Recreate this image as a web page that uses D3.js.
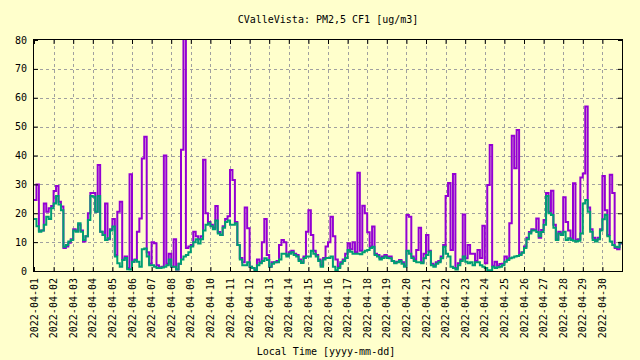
<!DOCTYPE html>
<html>
<head>
<meta charset="utf-8">
<script src="https://cdn.jsdelivr.net/npm/d3@7"></script>
<style>
html,body{margin:0;padding:0;background:#ffffcc;}
svg{display:block;}
text{font-family:"DejaVu Sans Mono","Liberation Mono",monospace;font-size:10px;fill:#000;}
</style>
</head>
<body>
<svg id="chart" width="640" height="360"></svg>
<script>
// ---- data (3-hour values, starting 2022-04-01 00:00 local time) ----
const chartTitle = "CValleVista: PM2,5 CF1 [ug/m3]";
const xTitle = "Local Time [yyyy-mm-dd]";
const startDate = "2022-04-01";
const endDate = "2022-05-01";
const stepHours = 3;
const yTicks = [0, 10, 20, 30, 40, 50, 60, 70, 80];

// purple series
const seriesA = [
  24.6, 30, 14, 14, 23.4, 20.5, 21.7, 22.5,
  27.7, 29.4, 24, 22.3, 8, 8.5, 9.8, 11,
  14.5, 14, 16, 14, 10.2, 12, 20, 27,
  27, 20.5, 36.7, 13.6, 12.5, 23.4, 11, 14.5,
  18, 5.5, 20.5, 24, 4, 5, 1, 33.5,
  3.2, 4, 13.6, 18.2, 39, 46.5, 6.5, 2.5,
  10, 9.6, 2, 1.2, 1.5, 40, 2.5, 6,
  1.5, 11, 0.5, 2.5, 42, 90, 8, 8.5,
  9, 13.6, 12, 11, 12, 38.5, 20, 17,
  16, 15, 22.5, 13.5, 12.5, 15.5, 18, 19,
  35, 31.5, 17, 9, 4.5, 3, 22, 14.8,
  1.5, 1, 0.5, 4, 3, 10, 18, 5.5,
  1.5, 3, 3, 3.5, 9, 10.7, 10, 5.5,
  6.5, 7, 6, 5.5, 4, 3, 5, 13.6,
  21, 12.5, 7, 5.5, 4, 2, 4.5, 8.5,
  10, 18.8, 12, 4, 1.5, 3, 4, 6,
  9.6, 7.5, 10, 6.5, 34, 7, 22.6, 20,
  13.4, 8.5, 15.4, 6, 5.5, 4.5, 5, 5.5,
  5, 5, 3.5, 3, 3.2, 3.8, 3, 1.8,
  19.4, 18.8, 5, 4, 7.3, 15, 3, 6,
  12.5, 7, 2.5, 2, 3, 3.5, 5, 9,
  26, 30.5, 7.3, 33.6, 1, 2.7, 4, 19.6,
  4.4, 9, 6, 6, 3.5, 7.3, 4.5, 15.7,
  2.7, 29.8, 43.6, 1.8, 3.2, 1.8, 2.4, 2.5,
  5, 4.2, 16.5, 46.8, 35.6, 48.8, 5.8, 6.5,
  8.5, 11.5, 13.5, 14.5, 14.2, 18.2, 11.5, 14.2,
  17.7, 27, 20.5, 27.8, 16, 11, 13.6, 13,
  25.5, 17, 14, 11, 30.4, 10.8, 11, 32.4,
  33.8, 57, 22, 14.5, 11.5, 10.7, 11.5, 14.5,
  32.9, 21, 12.5, 33.3, 27, 8, 7.5, 9.5
];

// green series
const seriesB = [
  18, 15.5, 13.6, 14, 16, 18.8, 18, 21.7,
  23.4, 26, 23, 21, 8.4, 9, 10.2, 10.7,
  14, 13.6, 16.5, 13.6, 10.7, 12, 17.7, 26,
  25.7, 20.5, 26, 13.6, 12.5, 10.7, 11.3, 14,
  15.4, 5, 2.7, 1.5, 3.8, 4.5, 0.6, 0.5,
  3.2, 3.8, 3.2, 1.5, 7.5, 7.8, 5, 2,
  2, 1.5, 1, 1, 1.2, 1.5, 2, 4,
  1.5, 1.5, 0.5, 2.5, 4, 5, 5.5, 6.5,
  8.5, 10, 11, 9.5, 11, 14, 16, 16.5,
  15.5, 14.5, 17.5, 13, 12.5, 15, 17, 17.5,
  16, 16, 16.5, 9, 4, 2, 2, 3,
  1.5, 1, 0.3, 2, 2.7, 3.5, 4.4, 3.8,
  1.5, 2.5, 3, 3, 4, 6, 6, 5,
  6, 6.5, 5.5, 5, 3.5, 2.8, 4.5, 5,
  5, 7, 6, 5, 3.5, 1.5, 4, 4.5,
  4.5, 5, 1.5, 0.3, 1, 2.5, 3.5, 4.5,
  7.3, 6.7, 6, 6, 6, 5.8, 6.5, 7,
  7.3, 8, 8.4, 5.5, 5, 4, 4.5, 5,
  4.5, 4.4, 3.5, 2.7, 3, 3.5, 2.5, 1.5,
  7, 6, 4.5, 3.5, 3, 3, 2.7, 4.4,
  5.5, 6.7, 2, 1.5, 2.5, 3, 4.4, 8.4,
  6, 5, 1.5, 1, 0.5, 2, 3.5, 5,
  3.2, 2.7, 3, 2, 3, 3, 2, 1.5,
  1, 0.3, 0.3, 1.5, 1, 1.3, 1.5, 2,
  3.2, 3.8, 4.4, 4.7, 5, 5.2, 5.5, 6.3,
  8, 11, 13, 14, 14, 13.5, 12, 13.5,
  16, 26, 20, 19.4, 15, 10.7, 13, 12.5,
  13.6, 10.7, 11.3, 10.7, 10.5, 10.2, 10.5, 13,
  23.4, 24.6, 20.5, 13.6, 10.7, 10.2, 11, 14,
  17.9, 19.4, 12, 10.2, 9, 8.4, 8.2, 9.8
];

const colorA = "#9400d3";
const colorB = "#009e73";

// ---- drawing ----
const svg = d3.select("#chart");
const L = 34, R = 622, T = 40, B = 271;
const parse = d3.utcParse("%Y-%m-%d");
const t0 = parse(startDate), t1 = parse(endDate);

const x = d3.scaleUtc().domain([t0, t1]).range([L, R]);
const y = d3.scaleLinear().domain([0, 80]).range([B, T]);

svg.append("rect").attr("width", 640).attr("height", 360).attr("fill", "#ffffcc");

const dayTicks = d3.utcDay.range(t0, t1);

// grid
const grid = svg.append("g").attr("stroke", "#a0a0a0").attr("stroke-width", 1).attr("stroke-dasharray", "3,3");
dayTicks.filter(d => +d !== +t0).forEach(d => {
  const xx = Math.round(x(d)) + 0.5;
  grid.append("line").attr("x1", xx).attr("x2", xx).attr("y1", T).attr("y2", B);
});
yTicks.filter(v => v > 0 && v < 80).forEach(v => {
  const yy = Math.round(y(v)) + 0.5;
  grid.append("line").attr("x1", L).attr("x2", R).attr("y1", yy).attr("y2", yy);
});

// clip
svg.append("clipPath").attr("id", "clip").append("rect")
  .attr("x", L).attr("y", T).attr("width", R - L).attr("height", B - T);

function toPoints(arr) {
  const pts = arr.map((v, i) => ({t: d3.utcHour.offset(t0, i * stepHours), v}));
  pts.push({t: d3.utcHour.offset(t0, arr.length * stepHours), v: arr[arr.length - 1]});
  return pts;
}
const line = d3.line().x(d => x(d.t)).y(d => y(d.v)).curve(d3.curveStepAfter);

const plot = svg.append("g").attr("clip-path", "url(#clip)");
plot.append("path").datum(toPoints(seriesA)).attr("d", line)
  .attr("fill", "none").attr("stroke", colorA).attr("stroke-width", 2);
plot.append("path").datum(toPoints(seriesB)).attr("d", line)
  .attr("fill", "none").attr("stroke", colorB).attr("stroke-width", 2);

// border
svg.append("rect").attr("x", L - 0.5).attr("y", T - 0.5).attr("width", R - L + 1).attr("height", B - T + 1)
  .attr("fill", "none").attr("stroke", "#000").attr("stroke-width", 1);

// axes (ticks inward, mirrored)
const tickLen = 4;
const ax = svg.append("g");
const axB = ax.append("g").attr("transform", `translate(0,${B})`)
  .call(d3.axisBottom(x).tickValues(dayTicks).tickSize(-tickLen).tickFormat(""));
const axT = ax.append("g").attr("transform", `translate(0,${T})`)
  .call(d3.axisTop(x).tickValues(dayTicks).tickSize(-tickLen).tickFormat(""));
const axL = ax.append("g").attr("transform", `translate(${L},0)`)
  .call(d3.axisLeft(y).tickValues(yTicks).tickSize(-tickLen).tickFormat(""));
const axR = ax.append("g").attr("transform", `translate(${R},0)`)
  .call(d3.axisRight(y).tickValues(yTicks).tickSize(-tickLen).tickFormat(""));
[axB, axT, axL, axR].forEach(g => {
  g.select(".domain").remove();
  g.selectAll("line").attr("stroke", "#000").attr("stroke-width", 1);
});

// y labels
svg.append("g").selectAll("text").data(yTicks).join("text")
  .attr("x", 27).attr("y", d => y(d)).attr("dy", "0.35em")
  .attr("text-anchor", "end").text(d => d);

// x labels
const fmt = d3.utcFormat("%Y-%m-%d");
svg.append("g").selectAll("text").data(dayTicks).join("text")
  .attr("transform", d => `translate(${x(d)},278) rotate(-90)`)
  .attr("dy", "0.35em").attr("text-anchor", "end").text(d => fmt(d));

// titles
svg.append("text").attr("x", 328).attr("y", 23).attr("text-anchor", "middle").text(chartTitle);
svg.append("text").attr("x", 326).attr("y", 355).attr("text-anchor", "middle").text(xTitle);
</script>
</body>
</html>
